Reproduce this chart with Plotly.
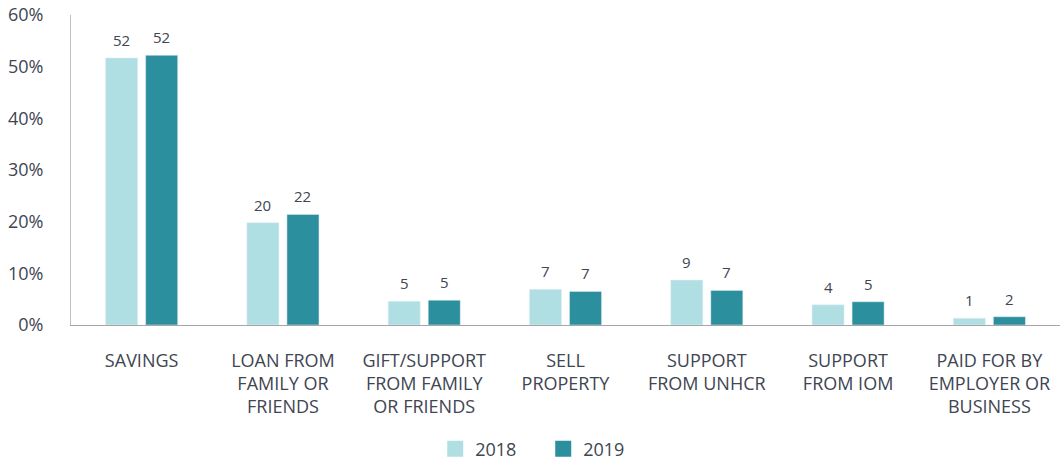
import plotly.graph_objects as go

categories = [
    "SAVINGS",
    "LOAN FROM<br>FAMILY OR<br>FRIENDS",
    "GIFT/SUPPORT<br>FROM FAMILY<br>OR FRIENDS",
    "SELL<br>PROPERTY",
    "SUPPORT<br>FROM UNHCR",
    "SUPPORT<br>FROM IOM",
    "PAID FOR BY<br>EMPLOYER OR<br>BUSINESS",
]
values_2018 = [51.7, 19.8, 4.6, 6.9, 8.7, 3.9, 1.3]
values_2019 = [52.2, 21.4, 4.8, 6.5, 6.7, 4.5, 1.6]
labels_2018 = ["52", "20", "5", "7", "9", "4", "1"]
labels_2019 = ["52", "22", "5", "7", "7", "5", "2"]
y_ticks = [0, 10, 20, 30, 40, 50, 60]
y_tick_labels = ["0%", "10%", "20%", "30%", "40%", "50%", "60%"]
series_names = ["2018", "2019"]
series_colors = ["#B0DFE3", "#2C8F9E"]

FONT = "Open Sans, Segoe UI, sans-serif"
TXT = "#404552"

fig = go.Figure()
for name, vals, col in zip(series_names, [values_2018, values_2019], series_colors):
    fig.add_trace(go.Bar(
        x=categories, y=vals, name=name,
        marker=dict(color=col),
        showlegend=False, hoverinfo="x+y",
    ))
# legend entries with larger square swatches
for name, col in zip(series_names, series_colors):
    fig.add_trace(go.Scatter(
        x=[None], y=[None], mode="markers", name=name,
        marker=dict(symbol="square", size=17, color=col),
        showlegend=True,
    ))

# value labels above bars (each bar sits half a slot left/right of the category centre)
annotations = []
for vals, labs, xshift in [(values_2018, labels_2018, -20), (values_2019, labels_2019, 20)]:
    for cat, v, lab in zip(categories, vals, labs):
        annotations.append(dict(
            x=cat, y=v, text=lab, showarrow=False,
            xshift=xshift, yshift=6, yanchor="bottom",
            font=dict(size=15, color=TXT, family=FONT),
        ))

fig.update_layout(
    width=1061, height=461,
    margin=dict(l=71, r=1, t=15, b=136),
    paper_bgcolor="white", plot_bgcolor="white",
    barmode="group", bargap=0.433, bargroupgap=0.2,
    font=dict(family=FONT, color=TXT),
    showlegend=True,
    annotations=annotations,
    legend=dict(orientation="h", xref="container", yref="container",
                x=0.512, xanchor="center", y=0.026, yanchor="middle",
                font=dict(size=18, color=TXT, family=FONT), itemwidth=30,
                entrywidth=63, traceorder="normal"),
)
fig.update_yaxes(
    range=[0, 60], tickmode="array", tickvals=y_ticks, ticktext=y_tick_labels,
    showgrid=False, zeroline=False, automargin=False,
    showline=True, linecolor="#BFBFBF", linewidth=1,
    tickfont=dict(size=18, color=TXT, family=FONT),
    ticks="", ticklabelstandoff=23,
)
fig.update_xaxes(
    showgrid=False, showline=True, linecolor="#A6A6A6", linewidth=1,
    tickfont=dict(size=18, color=TXT, family=FONT), automargin=False,
    ticks="", ticklabelstandoff=19, tickangle=0,
)

fig.write_html(
    "out.html",
    config={"displayModeBar": False},
    post_script="document.body.style.margin='0';document.body.style.overflow='hidden';",
)
